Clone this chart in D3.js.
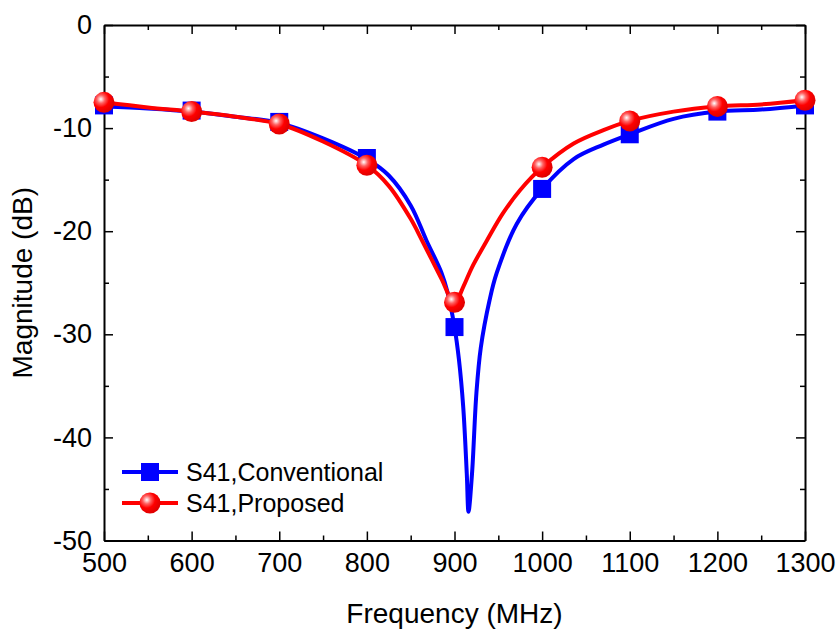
<!DOCTYPE html>
<html>
<head>
<meta charset="utf-8">
<script src="https://cdn.jsdelivr.net/npm/d3@7"></script>
<style>
  body { margin: 0; background: #fff; }
  text { font-family: "Liberation Sans", Arial, sans-serif; fill: #000; }
</style>
</head>
<body>
<svg id="chart" width="838" height="631"></svg>
<script>
// curve samples (MHz, dB)
const conv_freq = [500, 550, 600, 650, 700, 750, 800, 825, 850, 868, 885, 892, 900, 905, 910, 914, 916, 920, 925, 930, 940, 948, 971, 1000, 1036, 1070, 1100, 1150, 1200, 1250, 1300]
const conv_db   = [-7.9, -8.1, -8.4, -8.9, -9.5, -11.0, -13.0, -14.6, -17.5, -20.9, -24.0, -25.9, -29.3, -32.4, -37.1, -43.5, -47.2, -43.5, -35.7, -31.3, -26.7, -24.1, -19.3, -15.9, -13.0, -11.6, -10.6, -9.1, -8.4, -8.2, -7.8]

const prop_freq = [500, 550, 600, 650, 700, 750, 800, 825, 850, 863, 885, 900, 910, 920, 937, 955, 975, 1000, 1036, 1070, 1100, 1150, 1200, 1250, 1300]
const prop_db   = [-7.5, -8.0, -8.4, -8.9, -9.6, -11.3, -13.6, -15.6, -18.8, -20.9, -24.6, -27.0, -25.4, -23.5, -20.9, -18.3, -16.0, -13.8, -11.5, -10.2, -9.3, -8.4, -7.9, -7.7, -7.3]

// marker values
const marker_freq = [500, 600, 700, 800, 900, 1000, 1100, 1200, 1300]
const conv_marker = [-7.8, -8.3, -9.4, -12.9, -29.3, -15.9, -10.6, -8.4, -7.8]
const prop_marker = [-7.5, -8.4, -9.6, -13.6, -26.9, -13.8, -9.3, -7.9, -7.3]

const x_ticks = [500, 600, 700, 800, 900, 1000, 1100, 1200, 1300]
const y_ticks = [0, -10, -20, -30, -40, -50]

const margin = { left: 104, right: 33, top: 25, bottom: 90 }

const svg = d3.select('#chart')

const x = d3.scaleLinear().domain([500, 1300]).range([margin.left, 805])
const y = d3.scaleLinear().domain([-50, 0]).range([540.5, margin.top])

// gradient for the shiny red balls
const grad = svg.append('defs').append('radialGradient')
  .attr('id', 'ball').attr('cx', '35%').attr('cy', '35%').attr('r', '65%')
grad.append('stop').attr('offset', '0%').attr('stop-color', '#ffffff')
grad.append('stop').attr('offset', '30%').attr('stop-color', '#ff6060')
grad.append('stop').attr('offset', '60%').attr('stop-color', '#ff0000')
grad.append('stop').attr('offset', '100%').attr('stop-color', '#e00000')

// axes with inward ticks on all four sides
const minorX = d3.range(550, 1300, 100)
const minorY = d3.range(-45, 0, 10)
const plain = d => String(d)

function drawAxis(axis, transform, minorAxis) {
  const g = svg.append('g').attr('transform', transform).call(axis)
  g.select('.domain').attr('stroke-width', 2)
  g.selectAll('.tick line').attr('stroke-width', 1.5)
  svg.append('g').attr('transform', transform).call(minorAxis)
    .call(s => s.select('.domain').remove())
    .call(s => s.selectAll('.tick line').attr('stroke-width', 1.5))
  return g
}

const xb = drawAxis(
  d3.axisBottom(x).tickValues(x_ticks).tickSizeInner(-9).tickSizeOuter(0).tickPadding(13).tickFormat(plain),
  `translate(0,${y(-50)})`,
  d3.axisBottom(x).tickValues(minorX).tickSizeInner(-5).tickSizeOuter(0).tickFormat(''))
xb.selectAll('.tick text').attr('font-size', 27).attr('dy', '0.7em')

drawAxis(
  d3.axisTop(x).tickValues(x_ticks).tickSizeInner(-9).tickSizeOuter(0).tickFormat(''),
  `translate(0,${y(0)})`,
  d3.axisTop(x).tickValues(minorX).tickSizeInner(-5).tickSizeOuter(0).tickFormat(''))

const yl = drawAxis(
  d3.axisLeft(y).tickValues(y_ticks).tickSizeInner(-9).tickSizeOuter(0).tickPadding(12).tickFormat(plain),
  `translate(${x(500)},0)`,
  d3.axisLeft(y).tickValues(minorY).tickSizeInner(-5).tickSizeOuter(0).tickFormat(''))
yl.selectAll('.tick text').attr('font-size', 27)

drawAxis(
  d3.axisRight(y).tickValues(y_ticks).tickSizeInner(-9).tickSizeOuter(0).tickFormat(''),
  `translate(${x(1300)},0)`,
  d3.axisRight(y).tickValues(minorY).tickSizeInner(-5).tickSizeOuter(0).tickFormat(''))

// axis titles
svg.append('text')
  .attr('x', (x(500) + x(1300)) / 2).attr('y', 623)
  .attr('text-anchor', 'middle').attr('font-size', 28)
  .text('Frequency (MHz)')

svg.append('text')
  .attr('transform', `translate(32,${(y(0) + y(-50)) / 2}) rotate(-90)`)
  .attr('text-anchor', 'middle').attr('font-size', 28)
  .text('Magnitude (dB)')

// lines
const line = d3.line().x(d => x(d[0])).y(d => y(d[1])).curve(d3.curveCatmullRom.alpha(0.5))

svg.append('path')
  .datum(d3.zip(conv_freq, conv_db))
  .attr('d', line).attr('fill', 'none')
  .attr('stroke', '#0000ff').attr('stroke-width', 4)

// blue squares
svg.selectAll('.sq')
  .data(d3.zip(marker_freq, conv_marker))
  .enter().append('rect')
  .attr('x', d => x(d[0]) - 9).attr('y', d => y(d[1]) - 9)
  .attr('width', 18).attr('height', 18)
  .attr('fill', '#0000ff')

svg.append('path')
  .datum(d3.zip(prop_freq, prop_db))
  .attr('d', line).attr('fill', 'none')
  .attr('stroke', '#ff0000').attr('stroke-width', 4)

svg.selectAll('.ball')
  .data(d3.zip(marker_freq, prop_marker))
  .enter().append('circle')
  .attr('cx', d => x(d[0])).attr('cy', d => y(d[1]))
  .attr('r', 10.5)
  .attr('fill', 'url(#ball)')

// legend
const legend = svg.append('g')
const legendItems = [
  { name: 'S41,Conventional', color: '#0000ff', shape: 'square' },
  { name: 'S41,Proposed', color: '#ff0000', shape: 'ball' }
]
legendItems.forEach((it, i) => {
  const ly = 472 + i * 31
  legend.append('line')
    .attr('x1', 122).attr('x2', 178).attr('y1', ly).attr('y2', ly)
    .attr('stroke', it.color).attr('stroke-width', 4)
  if (it.shape === 'square') {
    legend.append('rect').attr('x', 141).attr('y', ly - 9)
      .attr('width', 18).attr('height', 18).attr('fill', it.color)
  } else {
    legend.append('circle').attr('cx', 150).attr('cy', ly).attr('r', 10.5)
      .attr('fill', 'url(#ball)')
  }
  legend.append('text')
    .attr('x', 186).attr('y', ly).attr('dy', '0.36em')
    .attr('font-size', 25)
    .text(it.name)
})
</script>
</body>
</html>
